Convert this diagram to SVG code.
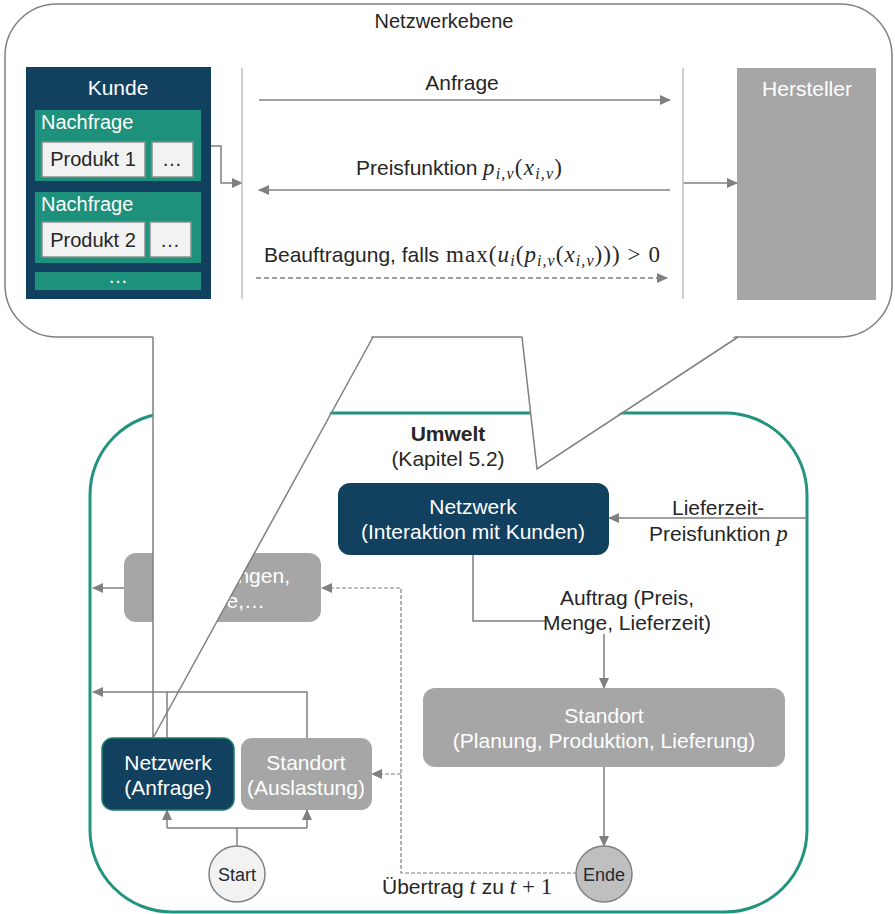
<svg xmlns="http://www.w3.org/2000/svg" width="895" height="914" viewBox="0 0 895 914">
<style>
.t{font-family:"Liberation Sans",Arial,sans-serif;font-size:21px;fill:#262626}
.t20{font-size:20px}
.w{fill:#ffffff}
.c{text-anchor:middle}
.b{font-weight:bold}
.mt{font-family:"Liberation Serif","DejaVu Serif",serif;font-size:23px;fill:#262626}
.m{font-family:"Liberation Serif","DejaVu Serif",serif;font-style:italic}
.mr{font-family:"Liberation Serif","DejaVu Serif",serif;font-style:normal}
.sub{font-size:16px}
.ln{fill:none;stroke:#808080;stroke-width:1.5}
.dash{stroke-dasharray:5,3}
.dash2{stroke-dasharray:4,2;stroke-width:1.2}
.navy{fill:#12405f}
.teal{fill:#1e917c}
.grey{fill:#a6a6a6}
.prod{fill:#f2f2f2;stroke:#8c8c8c;stroke-width:1.5}
.life{stroke:#bfbfbf;stroke-width:1.5}
</style>
<defs>
<marker id="ah" markerUnits="userSpaceOnUse" markerWidth="11" markerHeight="10" viewBox="0 0 11 10" refX="10" refY="5" orient="auto">
<path d="M0,0 L11,5 L0,10 z" fill="#808080"/>
</marker>
</defs>

<g id="umwelt">
<rect x="90" y="413" width="717" height="499" rx="82" fill="#ffffff" stroke="#219480" stroke-width="3"/>
<text class="t c b" x="448" y="441">Umwelt</text>
<text class="t c" x="448" y="466">(Kapitel 5.2)</text>
</g>

<g id="meldungen">
<rect x="124" y="553" width="197" height="69" rx="12" class="grey"/>
<text class="t w" x="290" y="583" text-anchor="end">ngen,</text>
<text class="t w" x="265" y="608" text-anchor="end">e,…</text>
</g>

<g id="netzwerkebene">
<rect x="5" y="4" width="887" height="333" rx="52" fill="#ffffff" stroke="#808080" stroke-width="1.5"/>
<polygon points="153,334 373,334 153,738" fill="#ffffff"/>
<polygon points="522,334 738,334 537,469" fill="#ffffff"/>
<path class="ln" d="M153,337 L153,738 L373,337"/>
<path class="ln" d="M522,337 L537,469 L738,337"/>
<text class="t t20 c" x="444" y="28">Netzwerkebene</text>
</g>

<g id="connectors">
<path class="ln" d="M201,146 H221 V183 H242" marker-end="url(#ah)"/>
<path class="ln" d="M259,100 H670" marker-end="url(#ah)"/>
<path class="ln" d="M670,190 H259" marker-end="url(#ah)"/>
<path class="ln dash" d="M256,278 H667" marker-end="url(#ah)"/>
<path class="ln" d="M683,183 H737" marker-end="url(#ah)"/>
<path class="ln" d="M807,518 H609" marker-end="url(#ah)"/>
<path class="ln" d="M473,555 V621 H604 V688" marker-end="url(#ah)"/>
<path class="ln" d="M604,767 V846" marker-end="url(#ah)"/>
<path class="ln dash2" d="M577,873 H401 V588 H322" marker-end="url(#ah)"/>
<path class="ln dash2" d="M401,774 H372" marker-end="url(#ah)"/>
<path class="ln" d="M237,846 V828 M167,828 H307"/>
<path class="ln" d="M167,828 V810" marker-end="url(#ah)"/>
<path class="ln" d="M307,828 V810" marker-end="url(#ah)"/>
<path class="ln" d="M307,738 V692 H167"/>
<path class="ln" d="M167,738 V692 H93" marker-end="url(#ah)"/>
<path class="ln" d="M124,588 H93" marker-end="url(#ah)"/>
<line class="life" x1="242" y1="68" x2="242" y2="299"/>
<line class="life" x1="683" y1="68" x2="683" y2="299"/>
</g>

<g id="kunde">
<rect x="26" y="67" width="185" height="232" class="navy"/>
<text class="t w c" x="118" y="95">Kunde</text>
</g>
<g id="nachfrage1">
<rect x="35" y="110" width="166" height="71" class="teal"/>
<text class="t t20 w" x="41" y="129">Nachfrage</text>
<rect x="42" y="142" width="103" height="35" class="prod"/>
<text class="t t20 c" x="93" y="166">Produkt 1</text>
<rect x="152" y="142" width="41" height="35" class="prod"/>
<text class="t t20 c" x="172" y="166">…</text>
</g>
<g id="nachfrage2">
<rect x="35" y="192" width="166" height="71" class="teal"/>
<text class="t t20 w" x="41" y="211">Nachfrage</text>
<rect x="42" y="222" width="103" height="35" class="prod"/>
<text class="t t20 c" x="93" y="247">Produkt 2</text>
<rect x="150" y="222" width="41" height="35" class="prod"/>
<text class="t t20 c" x="170" y="247">…</text>
</g>
<g id="nachfrage-more">
<rect x="35" y="272" width="166" height="18" class="teal"/>
<text class="t t20 w c" x="118" y="283">…</text>
</g>
<g id="hersteller">
<rect x="737" y="68" width="139" height="232" class="grey"/>
<text class="t w c" x="807" y="96">Hersteller</text>
</g>

<g id="labels-top">
<text class="t c" x="462" y="90">Anfrage</text>
<text class="t" x="356" y="175">Preisfunktion</text>
<text class="mt" x="483" y="175" textLength="79" lengthAdjust="spacing"><tspan class="m">p</tspan><tspan class="m sub" dy="4">i,v</tspan><tspan class="mr" dy="-4">(</tspan><tspan class="m">x</tspan><tspan class="m sub" dy="4">i,v</tspan><tspan class="mr" dy="-4">)</tspan></text>
<text class="t" x="264" y="262">Beauftragung, falls</text>
<text class="mt" x="446" y="262" textLength="214" lengthAdjust="spacing"><tspan class="mr">max(</tspan><tspan class="m">u</tspan><tspan class="m sub" dy="4">i</tspan><tspan class="mr" dy="-4">(</tspan><tspan class="m">p</tspan><tspan class="m sub" dy="4">i,v</tspan><tspan class="mr" dy="-4">(</tspan><tspan class="m">x</tspan><tspan class="m sub" dy="4">i,v</tspan><tspan class="mr" dy="-4">))) &gt; 0</tspan></text>
</g>

<g id="netzwerk-interaktion">
<rect x="338" y="483" width="271" height="72" rx="12" class="navy"/>
<text class="t w c" x="473" y="514">Netzwerk</text>
<text class="t w c" x="473" y="539">(Interaktion mit Kunden)</text>
</g>
<g id="label-lieferzeit">
<text class="t" x="672" y="515">Lieferzeit-</text>
<text class="t" x="649" y="541">Preisfunktion <tspan class="m" style="font-size:23px">p</tspan></text>
</g>
<g id="label-auftrag">
<rect x="548" y="588" width="168" height="46" fill="#ffffff"/>
<text class="t c" x="627" y="605">Auftrag (Preis,</text>
<text class="t c" x="627" y="630">Menge, Lieferzeit)</text>
</g>
<g id="standort-planung">
<rect x="423" y="688" width="362" height="79" rx="12" class="grey"/>
<text class="t w c" x="604" y="723">Standort</text>
<text class="t w c" x="604" y="748">(Planung, Produktion, Lieferung)</text>
</g>
<g id="netzwerk-anfrage">
<rect x="102" y="738" width="132" height="72" rx="11" class="navy" stroke="#1e7f6e" stroke-width="1.5"/>
<text class="t w c" x="168" y="770">Netzwerk</text>
<text class="t w c" x="168" y="795">(Anfrage)</text>
</g>
<g id="standort-auslastung">
<rect x="241" y="738" width="131" height="72" rx="11" class="grey"/>
<text class="t w c" x="306" y="770">Standort</text>
<text class="t w c" x="306" y="795">(Auslastung)</text>
</g>
<g id="start">
<circle cx="237" cy="874" r="28" fill="#f2f2f2" stroke="#808080" stroke-width="1.5"/>
<text class="t c" x="237" y="881" style="font-size:18px;fill:#222a35">Start</text>
</g>
<g id="ende">
<circle cx="604" cy="874" r="28" fill="#bfbfbf" stroke="#808080" stroke-width="1.5"/>
<text class="t c" x="604" y="881" style="font-size:18px;fill:#222a35">Ende</text>
</g>
<g id="label-uebertrag">
<text class="t" x="382" y="894">Übertrag <tspan class="m" style="font-size:23px">t</tspan> zu <tspan class="m" style="font-size:23px">t</tspan><tspan class="mr" style="font-size:23px"> + 1</tspan></text>
</g>
</svg>
